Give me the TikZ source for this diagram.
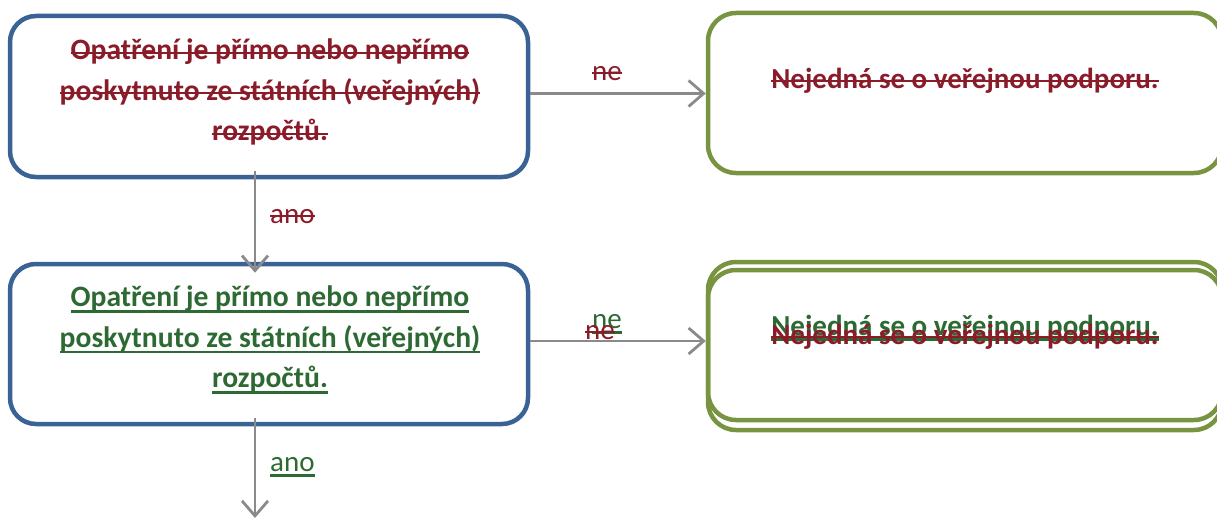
\documentclass[tikz,border=0pt]{standalone}
\usepackage{fontspec}
\setmainfont{Carlito}
\usetikzlibrary{arrows.meta}
\definecolor{bbord}{HTML}{3A6295}
\definecolor{gbord}{HTML}{789440}
\definecolor{deltxt}{HTML}{8A1C2A}
\definecolor{instxt}{HTML}{2D6A33}
\definecolor{arrgray}{HTML}{8A8A8A}
\newsavebox\mkbox
\newcommand{\stk}[1]{\sbox\mkbox{#1}\rlap{\rule[0.19em]{\wd\mkbox}{2.4pt}}\usebox\mkbox}
\newcommand{\und}[1]{\sbox\mkbox{#1}\rlap{\rule[-0.2em]{\wd\mkbox}{2.4pt}}\usebox\mkbox}
\begin{document}
\begin{tikzpicture}[x=1pt,y=-1pt,
  bluebox/.style={draw=bbord, line width=4.5pt, rounded corners=26pt, minimum width=518pt, inner sep=0pt},
  greenbox/.style={draw=gbord, line width=4.5pt, rounded corners=28pt, minimum width=514pt, inner sep=0pt},
  boxtext/.style={font=\fontsize{29.6}{40.5}\selectfont\bfseries, align=center, inner sep=0pt},
  gtext/.style={font=\fontsize{29}{40}\selectfont\bfseries, inner sep=0pt, anchor=base},
  lbl/.style={font=\fontsize{29}{34}\selectfont, inner sep=0pt, anchor=base west},
  arr/.style={draw=arrgray, line width=2.8pt, -{Straight Barb[length=15pt,width=26pt,line width=2.8pt]}}]
\useasboundingbox (0,0) rectangle (1217,519);
% boxes
\node[bluebox, minimum height=161pt] (b1) at (269,96.5) {};
\node[bluebox, minimum height=160pt] (b2) at (269,344) {};
\node[greenbox, minimum height=160pt] (g1) at (965,93) {};
\node[greenbox, minimum height=158pt] (g2a) at (965,341) {};
\node[greenbox, minimum height=160pt] (g2b) at (965,350) {};
% texts
\node[boxtext, text=deltxt] (t1) at (270,92)
  {\stk{Opatření je přímo nebo nepřímo}\\\stk{poskytnuto ze státních (veřejných)}\\\stk{rozpočtů.}};
\node[boxtext, text=instxt] (t2) at (270,340)
  {\und{Opatření je přímo nebo nepřímo}\\\und{poskytnuto ze státních (veřejných)}\\\und{rozpočtů.}};
\node[gtext, text=deltxt] (tg1) at (965,88) {\stk{Nejedná se o veřejnou podporu.}};
\node[gtext, text=instxt] (tg2g) at (965,335) {\und{Nejedná se o veřejnou podporu.}};
\node[gtext, text=deltxt] (tg2r) at (965,344) {\stk{Nejedná se o veřejnou podporu.}};
% connectors
\draw[arr] ([yshift=3pt]b1.east) -- ([yshift=3pt]b1.east -| g1.west);
\draw[arr] ([yshift=3pt]b2.east) -- ([yshift=3pt]b2.east -| g2a.west);
\draw[arr] ([xshift=-14pt,yshift=8pt]b1.south) -- ([xshift=-14pt,yshift=-11pt]b2.north);
\coordinate (end) at (255,518);
\draw[arr] ([xshift=-14pt,yshift=8pt]b2.south) -- (end);
% labels
\node[lbl, text=deltxt] (ne1) at (592,80) {\stk{ne}};
\node[lbl, text=instxt] (ne2g) at (592,328) {\und{ne}};
\node[lbl, text=deltxt] (ne2r) at (585,339) {\stk{ne}};
\node[lbl, text=deltxt] (ano1) at (270,223) {\stk{ano}};
\node[lbl, text=instxt] (ano2) at (270,471) {\und{ano}};
\end{tikzpicture}
\end{document}
